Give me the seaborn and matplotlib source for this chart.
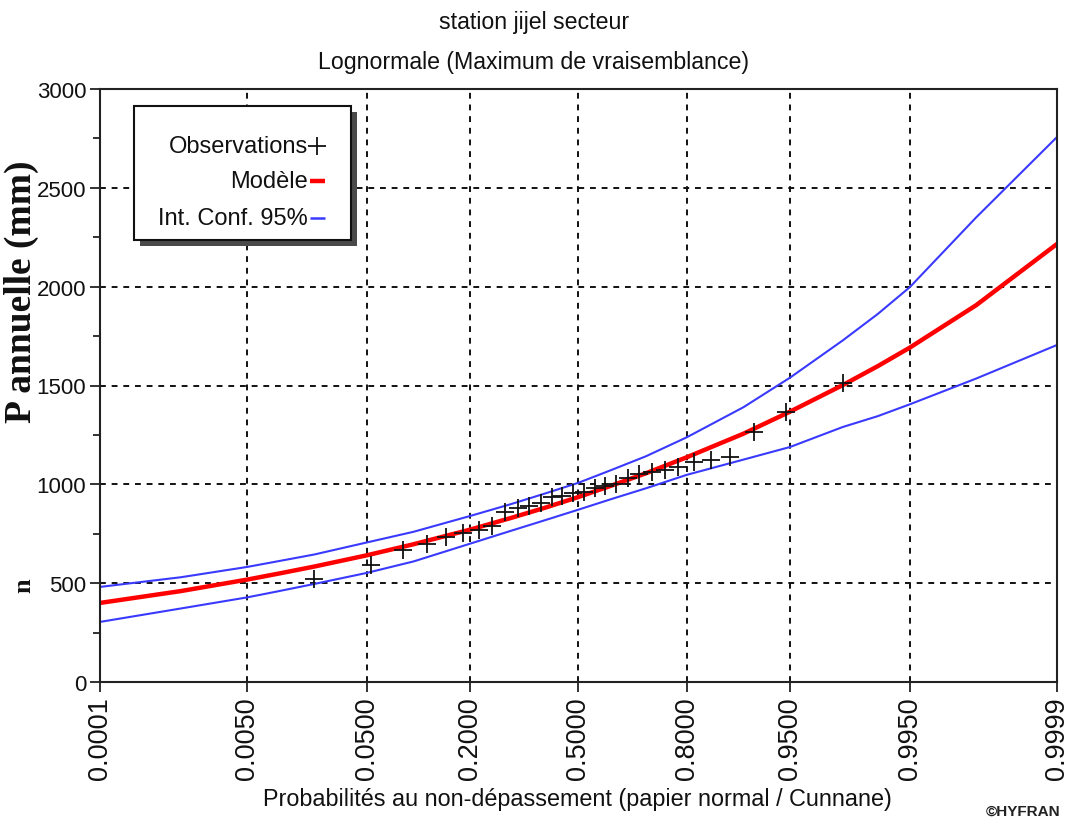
import numpy as np
import matplotlib
matplotlib.use("Agg")
import matplotlib.pyplot as plt
import seaborn as sns
from matplotlib.patches import Rectangle
from matplotlib.ticker import FixedLocator, MultipleLocator
from statistics import NormalDist

# ---- data -------------------------------------------------------------
# non-exceedance probabilities of the sorted observations (Cunnane positions)
obs_prob = [0.01987, 0.05298, 0.08609, 0.11921, 0.15232, 0.18543, 0.21854,
            0.25166, 0.28477, 0.31788, 0.35099, 0.38411, 0.41722, 0.45033,
            0.48344, 0.51656, 0.54967, 0.58278, 0.61589, 0.64901, 0.68212,
            0.71523, 0.74834, 0.78146, 0.81457, 0.84768, 0.88079, 0.91391,
            0.94702, 0.98013]
# annual rainfall, sorted (mm)
obs_rain = [521, 590, 668, 700, 735, 755, 770, 790, 860, 880, 890, 905,
            935, 940, 955, 960, 980, 990, 1000, 1030, 1050, 1060, 1075,
            1090, 1115, 1125, 1140, 1265, 1365, 1515]

# fitted lognormal quantiles and 95 % confidence band
curve_prob = [0.0001, 0.001, 0.005, 0.01, 0.02, 0.05, 0.1, 0.2, 0.3, 0.4,
              0.5, 0.6, 0.7, 0.8, 0.9, 0.95, 0.98, 0.99, 0.995, 0.999, 0.9999]
model = [400, 460, 518, 549, 584, 641, 697, 771, 830, 883,
         936, 993, 1056, 1137, 1256, 1368, 1502, 1598, 1692, 1906, 2216]
upper = [481, 530, 582, 612, 645, 706, 760, 840, 900, 955,
         1008, 1072, 1142, 1238, 1390, 1540, 1728, 1862, 1998, 2350, 2757]
lower = [304, 372, 428, 460, 496, 552, 610, 700, 765, 820,
         872, 925, 980, 1048, 1125, 1189, 1290, 1345, 1405, 1535, 1705]

x_ticks = [0.0001, 0.005, 0.05, 0.2, 0.5, 0.8, 0.95, 0.995, 0.9999]
x_tick_labels = ["0.0001", "0.0050", "0.0500", "0.2000", "0.5000",
                 "0.8000", "0.9500", "0.9950", "0.9999"]
y_ticks = [0, 500, 1000, 1500, 2000, 2500, 3000]

# ---- normal probability paper ------------------------------------------
_nd = NormalDist()
_ppf = np.vectorize(_nd.inv_cdf, otypes=[float])
_cdf = np.vectorize(_nd.cdf, otypes=[float])


def prob_to_z(p):
    p = np.clip(np.asarray(p, dtype=float), 1e-12, 1 - 1e-12)
    return _ppf(p)


def z_to_prob(z):
    return _cdf(np.asarray(z, dtype=float))


sns.set_style("white")
plt.rcParams["font.family"] = ["Liberation Sans", "DejaVu Sans"]

W, H = 1068, 828
fig = plt.figure(figsize=(W / 100, H / 100), dpi=100, facecolor="white")
AX_L, AX_R, AX_T, AX_B = 100, 1057, 90, 683
ax = fig.add_axes([AX_L / W, 1 - AX_B / H, (AX_R - AX_L) / W, (AX_B - AX_T) / H])
ax.set_xscale("function", functions=(prob_to_z, z_to_prob))
ax.set_xlim(0.0001, 0.9999)
ax.set_ylim(0, 3000)


def axfrac(px, py):
    return (px - AX_L) / (AX_R - AX_L), (AX_B - py) / (AX_B - AX_T)


blue = "#3a3aff"
sns.lineplot(x=curve_prob, y=upper, ax=ax, color=blue, linewidth=1.5, sort=False)
sns.lineplot(x=curve_prob, y=lower, ax=ax, color=blue, linewidth=1.5, sort=False)
sns.lineplot(x=curve_prob, y=model, ax=ax, color="#ff0000", linewidth=3.2, sort=False)
sns.scatterplot(x=obs_prob, y=obs_rain, ax=ax, marker="+", s=170,
                color="#111111", linewidth=1.3, zorder=5)

# axes, ticks and grid
ax.xaxis.set_major_locator(FixedLocator(x_ticks))
ax.xaxis.set_minor_locator(FixedLocator([]))
ax.set_xticklabels(x_tick_labels, rotation=90, fontsize=19.5, color="#111111")
ax.yaxis.set_major_locator(FixedLocator(y_ticks))
ax.yaxis.set_minor_locator(MultipleLocator(250))
ax.set_yticklabels([str(v) for v in y_ticks], fontsize=16, color="#111111")
ax.tick_params(axis="both", which="major", direction="out", length=7,
               width=1.3, color="#222222", pad=3, bottom=True, left=True)
ax.tick_params(axis="y", which="minor", direction="out", length=5,
               width=1.3, color="#222222", left=True)
ax.grid(True, which="major", color="#111111", linestyle=(0, (3, 3)), linewidth=1.4)
ax.set_axisbelow(True)
for s in ax.spines.values():
    s.set_visible(True)
    s.set_color("#222222")
    s.set_linewidth(1.5)
ax.set_xlabel("")
ax.set_ylabel("")

# legend box with drop shadow, entries right-aligned with their handles
bx0, by0 = axfrac(134, 241)
bx1, by1 = axfrac(351, 107)
sx, sy = axfrac(140, 247)
ax.add_patch(Rectangle((sx, sy), bx1 - bx0, by1 - by0, transform=ax.transAxes,
                       facecolor="#4a4a4a", edgecolor="none", zorder=8))
ax.add_patch(Rectangle((bx0, by0), bx1 - bx0, by1 - by0, transform=ax.transAxes,
                       facecolor="white", edgecolor="#111111", linewidth=1.5, zorder=9))
entries = [("Observations", 147), ("Modèle", 182), ("Int. Conf. 95%", 219)]
for label, py in entries:
    tx, ty = axfrac(308, py)
    ax.text(tx, ty, label, transform=ax.transAxes, ha="right", va="center",
            fontsize=17, color="#111111", zorder=10)
hx, hy = axfrac(317, 147)
ax.plot([hx], [hy], transform=ax.transAxes, marker="+", markersize=13,
        markeredgewidth=1.3, color="#111111", zorder=10, clip_on=False)
for color, py, lw in [("#ff0000", 182, 3.2), (blue, 219, 1.8)]:
    x0, yy = axfrac(310, py)
    x1, _ = axfrac(325, py)
    ax.plot([x0, x1], [yy, yy], transform=ax.transAxes, color=color,
            linewidth=lw, solid_capstyle="butt", zorder=10, clip_on=False)

# titles and labels
fig.text(534 / W, 1 - 22 / H, "station jijel secteur", ha="center", va="center",
         fontsize=16.7, color="#111111")
fig.text(534 / W, 1 - 62 / H, "Lognormale (Maximum de vraisemblance)",
         ha="center", va="center", fontsize=16.7, color="#111111")
fig.text(577 / W, 1 - 800 / H,
         "Probabilités au non-dépassement (papier normal / Cunnane)",
         ha="center", va="center", fontsize=16.8, color="#111111")
fig.text(21 / W, 1 - 292 / H, "P annuelle (mm)", rotation=90, ha="center",
         va="center", fontsize=27, fontweight="bold",
         family=["Liberation Serif", "DejaVu Serif"], color="#111111")
fig.text(24 / W, 1 - 586 / H, "n", rotation=90, ha="center", va="center",
         fontsize=19, fontweight="bold",
         family=["Liberation Serif", "DejaVu Serif"], color="#111111")
fig.text(1023 / W, 1 - 812 / H, "©HYFRAN", ha="center", va="center",
         fontsize=11, fontweight="bold", color="#222222")

fig.savefig("out.png", dpi=100, facecolor="white")
